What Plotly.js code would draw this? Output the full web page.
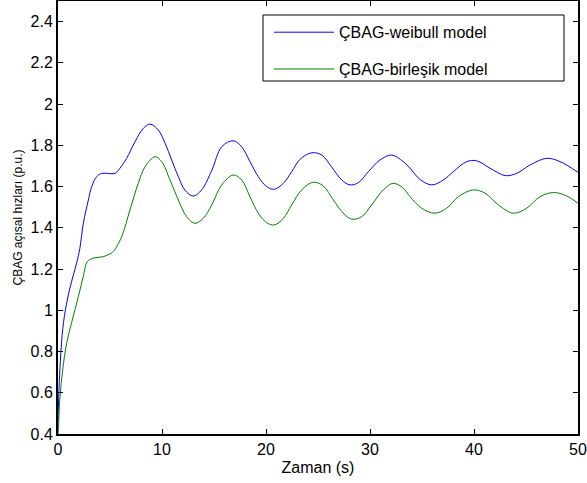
<!DOCTYPE html>
<html>
<head>
<meta charset="utf-8">
<script src="https://cdn.plot.ly/plotly-3.0.1.min.js"></script>
<style>html,body{margin:0;padding:0;background:#fff;}#chart{width:587px;height:483px;}</style>
</head>
<body>
<div id="chart"></div>
<script>
const seriesNames = ["ÇBAG-weibull model", "ÇBAG-birleşik model"];
const weibullT = [0, 0.13, 0.45, 0.83, 1.31, 1.79, 2.1, 2.43, 2.92, 3.24, 3.72, 4.2, 5.48, 5.96, 6.6, 7.4, 8.2, 8.85, 9.65, 10.3, 10.93, 11.57, 12.2, 13.0, 13.8, 14.8, 15.74, 16.86, 17.66, 18.46, 19.26, 20.06, 20.8, 21.67, 22.47, 23.27, 24.39, 25.35, 26.3, 27.28, 28.08, 28.88, 29.84, 30.96, 32.08, 33.2, 33.85, 34.8, 35.93, 37.05, 38.0, 39.3, 40.26, 41.54, 43.0, 44.1, 45.4, 47.0, 48.27, 50.0];
const weibullV = [0.45, 0.66, 0.906, 1.035, 1.14, 1.229, 1.30, 1.42, 1.535, 1.6, 1.648, 1.664, 1.664, 1.689, 1.737, 1.817, 1.882, 1.903, 1.874, 1.81, 1.729, 1.648, 1.583, 1.554, 1.583, 1.68, 1.793, 1.822, 1.793, 1.721, 1.648, 1.6, 1.587, 1.616, 1.672, 1.732, 1.764, 1.753, 1.696, 1.632, 1.608, 1.619, 1.672, 1.729, 1.753, 1.721, 1.689, 1.635, 1.608, 1.632, 1.672, 1.721, 1.725, 1.689, 1.653, 1.664, 1.705, 1.737, 1.721, 1.669];
const birlesikT = [0, 0.03, 0.19, 0.45, 0.83, 1.31, 1.96, 2.43, 2.82, 3.4, 4.36, 5.0, 5.32, 6.12, 6.92, 7.72, 8.37, 9.33, 9.97, 10.77, 11.57, 12.37, 13.17, 13.97, 14.78, 15.74, 16.86, 17.66, 18.46, 19.26, 20.06, 20.8, 21.67, 22.47, 23.43, 24.55, 25.51, 26.47, 27.43, 28.24, 29.2, 30.16, 31.28, 32.24, 33.2, 33.85, 34.97, 36.25, 37.37, 38.5, 39.94, 41.06, 42.34, 43.78, 45.06, 46.35, 47.63, 48.9, 50.0];
const birlesikV = [0.4, 0.42, 0.58, 0.71, 0.84, 0.94, 1.067, 1.164, 1.236, 1.253, 1.26, 1.274, 1.285, 1.357, 1.487, 1.616, 1.696, 1.745, 1.721, 1.632, 1.535, 1.454, 1.422, 1.446, 1.511, 1.608, 1.656, 1.632, 1.551, 1.471, 1.425, 1.414, 1.446, 1.511, 1.584, 1.621, 1.603, 1.535, 1.471, 1.442, 1.454, 1.511, 1.584, 1.616, 1.592, 1.551, 1.495, 1.471, 1.495, 1.551, 1.584, 1.568, 1.511, 1.471, 1.495, 1.551, 1.571, 1.555, 1.519];
const xTicks = [0, 10, 20, 30, 40, 50];
const yTicks = [0.4, 0.6, 0.8, 1, 1.2, 1.4, 1.6, 1.8, 2, 2.2, 2.4];

const font = "Liberation Sans, Arial, sans-serif";
const traces = [
  {x: weibullT, y: weibullV, name: seriesNames[0], mode: "lines", type: "scatter",
   line: {color: "#0000ff", width: 1, shape: "spline", smoothing: 1}, legendgroup: "a"},
  {x: birlesikT, y: birlesikV, name: seriesNames[1], mode: "lines", type: "scatter",
   line: {color: "#008000", width: 1, shape: "spline", smoothing: 1}, legendgroup: "b"}
];
const axisCommon = {
  showline: true, linecolor: "#000", linewidth: 2, mirror: "ticks",
  ticks: "inside", ticklen: 5, tickcolor: "#000", tickwidth: 1,
  showgrid: false, zeroline: false,
  tickfont: {family: font, size: 16, color: "#000"}
};
const layout = {
  width: 587, height: 483,
  margin: {l: 58, r: 9, t: 1, b: 49},
  paper_bgcolor: "#fff", plot_bgcolor: "#fff",
  font: {family: font, color: "#000"},
  showlegend: true,
  xaxis: Object.assign({}, axisCommon, {range: [0, 50], tickvals: xTicks,
    title: {text: "Zaman (s)", font: {family: font, size: 16}, standoff: 5}}),
  yaxis: Object.assign({}, axisCommon, {range: [0.4, 2.5], tickvals: yTicks,
    title: {text: "ÇBAG açısal hızları (p.u.)", font: {family: font, size: 12}, standoff: 5}}),
  legend: {x: 0.4058, y: 0.967, xanchor: "left", yanchor: "top",
    bgcolor: "rgba(0,0,0,0)", borderwidth: 0,
    font: {family: font, size: 16, color: "#000"},
    traceorder: "grouped", tracegroupgap: 13, itemwidth: 60},
  shapes: [{type: "rect", xref: "paper", yref: "paper", layer: "above",
    x0: (263 - 58) / 520, x1: (564 - 58) / 520, y0: 1 - (81 - 1) / 433, y1: 1 - (15 - 1) / 433,
    line: {color: "#000", width: 1}, fillcolor: "rgba(0,0,0,0)"}]
};
Plotly.newPlot("chart", traces, layout, {displayModeBar: false, staticPlot: true});
</script>
</body>
</html>
